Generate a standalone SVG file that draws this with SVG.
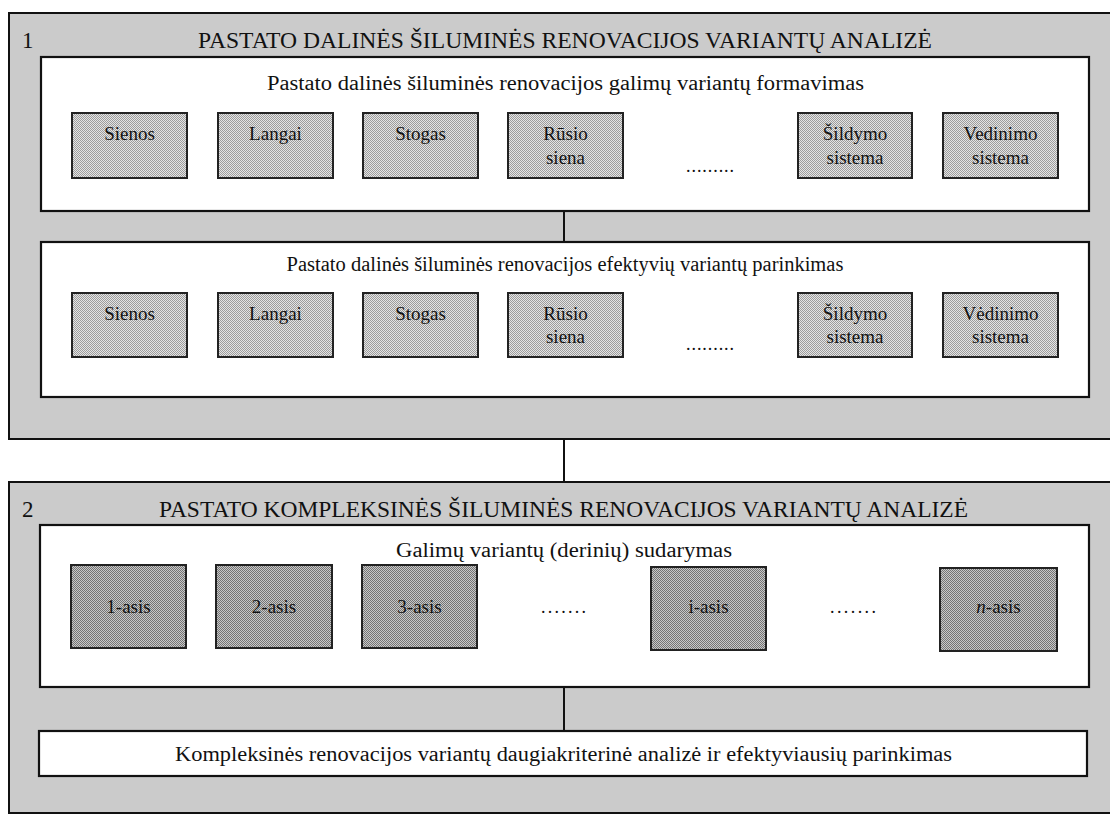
<svg xmlns="http://www.w3.org/2000/svg" width="1110" height="815" viewBox="0 0 1110 815">
<defs>
<pattern id="dotLight" width="2" height="2" patternUnits="userSpaceOnUse">
<rect width="2" height="2" fill="#e4e4e4"/>
<rect x="0" y="0" width="1" height="1" fill="#9c9c9c"/>
<rect x="1" y="1" width="1" height="1" fill="#9c9c9c"/>
</pattern>
<pattern id="dotDark" width="2" height="2" patternUnits="userSpaceOnUse">
<rect width="2" height="2" fill="#c8c8c8"/>
<rect x="0" y="0" width="1" height="1" fill="#747474"/>
<rect x="1" y="1" width="1" height="1" fill="#747474"/>
</pattern>
</defs>
<style>
text{font-family:"Liberation Serif","Times New Roman",serif;fill:#111;}
.outer{fill:#cbcbcb;stroke:#111;stroke-width:2;}
.inner{fill:#ffffff;stroke:#111;stroke-width:2.2;}
.lt{fill:url(#dotLight);stroke:#222;stroke-width:2;}
.dk{fill:url(#dotDark);stroke:#222;stroke-width:2;}
.title{font-size:23px;}
.sub{font-size:20.5px;}
.lbl{font-size:19px;text-anchor:middle;}
.conn{stroke:#111;stroke-width:2;fill:none;}
</style>
<rect width="1110" height="815" fill="#ffffff"/>

<g id="section1">
<rect class="outer" x="9" y="13" width="1110" height="426"/>
<text class="title" x="22" y="48">1</text>
<text class="title" x="198" y="48" textLength="734" lengthAdjust="spacingAndGlyphs">PASTATO DALINĖS ŠILUMINĖS RENOVACIJOS  VARIANTŲ ANALIZĖ</text>
</g>

<g id="panel1a">
<rect class="inner" x="41" y="57" width="1048" height="154"/>
<text class="sub" x="267" y="90" textLength="597" lengthAdjust="spacingAndGlyphs">Pastato dalinės šiluminės renovacijos  galimų variantų formavimas</text>
<g id="a-sienos"><rect class="lt" x="72" y="113" width="115" height="65"/><text class="lbl" x="129.5" y="140">Sienos</text></g>
<g id="a-langai"><rect class="lt" x="218" y="113" width="115" height="65"/><text class="lbl" x="275.5" y="140">Langai</text></g>
<g id="a-stogas"><rect class="lt" x="363" y="113" width="115" height="65"/><text class="lbl" x="420.5" y="140">Stogas</text></g>
<g id="a-rusio"><rect class="lt" x="508" y="113" width="115" height="65"/><text class="lbl" x="565.5" y="140">Rūsio</text><text class="lbl" x="565.5" y="164">siena</text></g>
<text x="686" y="172" font-size="18" textLength="48" lengthAdjust="spacing">.........</text>
<g id="a-sildymo"><rect class="lt" x="798" y="113" width="114" height="65"/><text class="lbl" x="855" y="140">Šildymo</text><text class="lbl" x="855" y="164">sistema</text></g>
<g id="a-vedinimo"><rect class="lt" x="943" y="113" width="115" height="65"/><text class="lbl" x="1000.5" y="140">Vedinimo</text><text class="lbl" x="1000.5" y="164">sistema</text></g>
</g>

<g id="panel1b">
<rect class="inner" x="41" y="242" width="1048" height="155"/>
<text class="sub" x="565" y="271" text-anchor="middle">Pastato dalinės šiluminės renovacijos efektyvių variantų parinkimas</text>
<g id="b-sienos"><rect class="lt" x="72" y="293" width="115" height="64"/><text class="lbl" x="129.5" y="320">Sienos</text></g>
<g id="b-langai"><rect class="lt" x="218" y="293" width="115" height="64"/><text class="lbl" x="275.5" y="320">Langai</text></g>
<g id="b-stogas"><rect class="lt" x="363" y="293" width="115" height="64"/><text class="lbl" x="420.5" y="320">Stogas</text></g>
<g id="b-rusio"><rect class="lt" x="508" y="293" width="115" height="64"/><text class="lbl" x="565.5" y="320">Rūsio</text><text class="lbl" x="565.5" y="343">siena</text></g>
<text x="686" y="350" font-size="18" textLength="48" lengthAdjust="spacing">.........</text>
<g id="b-sildymo"><rect class="lt" x="798" y="293" width="114" height="64"/><text class="lbl" x="855" y="320">Šildymo</text><text class="lbl" x="855" y="343">sistema</text></g>
<g id="b-vedinimo"><rect class="lt" x="943" y="293" width="115" height="64"/><text class="lbl" x="1000.5" y="320">Vėdinimo</text><text class="lbl" x="1000.5" y="343">sistema</text></g>
</g>

<g id="section2">
<rect class="outer" x="9" y="482" width="1110" height="331"/>
<text class="title" x="22" y="517">2</text>
<text class="title" x="159" y="517" textLength="809" lengthAdjust="spacingAndGlyphs">PASTATO KOMPLEKSINĖS ŠILUMINĖS RENOVACIJOS  VARIANTŲ ANALIZĖ</text>
</g>

<g id="panel2a">
<rect class="inner" x="40" y="525" width="1049" height="162"/>
<text class="sub" x="396" y="557" textLength="336" lengthAdjust="spacingAndGlyphs">Galimų variantų (derinių) sudarymas</text>
<g id="c-1"><rect class="dk" x="71" y="565" width="115" height="83"/><text class="lbl" x="128.5" y="613">1-asis</text></g>
<g id="c-2"><rect class="dk" x="216" y="565" width="116" height="83"/><text class="lbl" x="274" y="613">2-asis</text></g>
<g id="c-3"><rect class="dk" x="362" y="565" width="115" height="83"/><text class="lbl" x="419.5" y="613">3-asis</text></g>
<text x="541" y="613" font-size="18" textLength="45" lengthAdjust="spacing">.......</text>
<g id="c-i"><rect class="dk" x="651" y="567" width="115" height="83"/><text class="lbl" x="708.5" y="613">i-asis</text></g>
<text x="830" y="613" font-size="18" textLength="46" lengthAdjust="spacing">.......</text>
<g id="c-n"><rect class="dk" x="940" y="568" width="117" height="83"/><text class="lbl" x="998.5" y="613"><tspan font-style="italic">n</tspan>-asis</text></g>
</g>

<g id="panel2b">
<rect class="inner" x="39" y="731" width="1048" height="45"/>
<text class="sub" x="175" y="761" textLength="777" lengthAdjust="spacingAndGlyphs">Kompleksinės renovacijos variantų daugiakriterinė analizė ir efektyviausių parinkimas</text>
</g>

<g id="connectors">
<line class="conn" x1="564" y1="211" x2="564" y2="242"/>
<line class="conn" x1="564" y1="439" x2="564" y2="482"/>
<line class="conn" x1="564" y1="687" x2="564" y2="731"/>
</g>
</svg>
